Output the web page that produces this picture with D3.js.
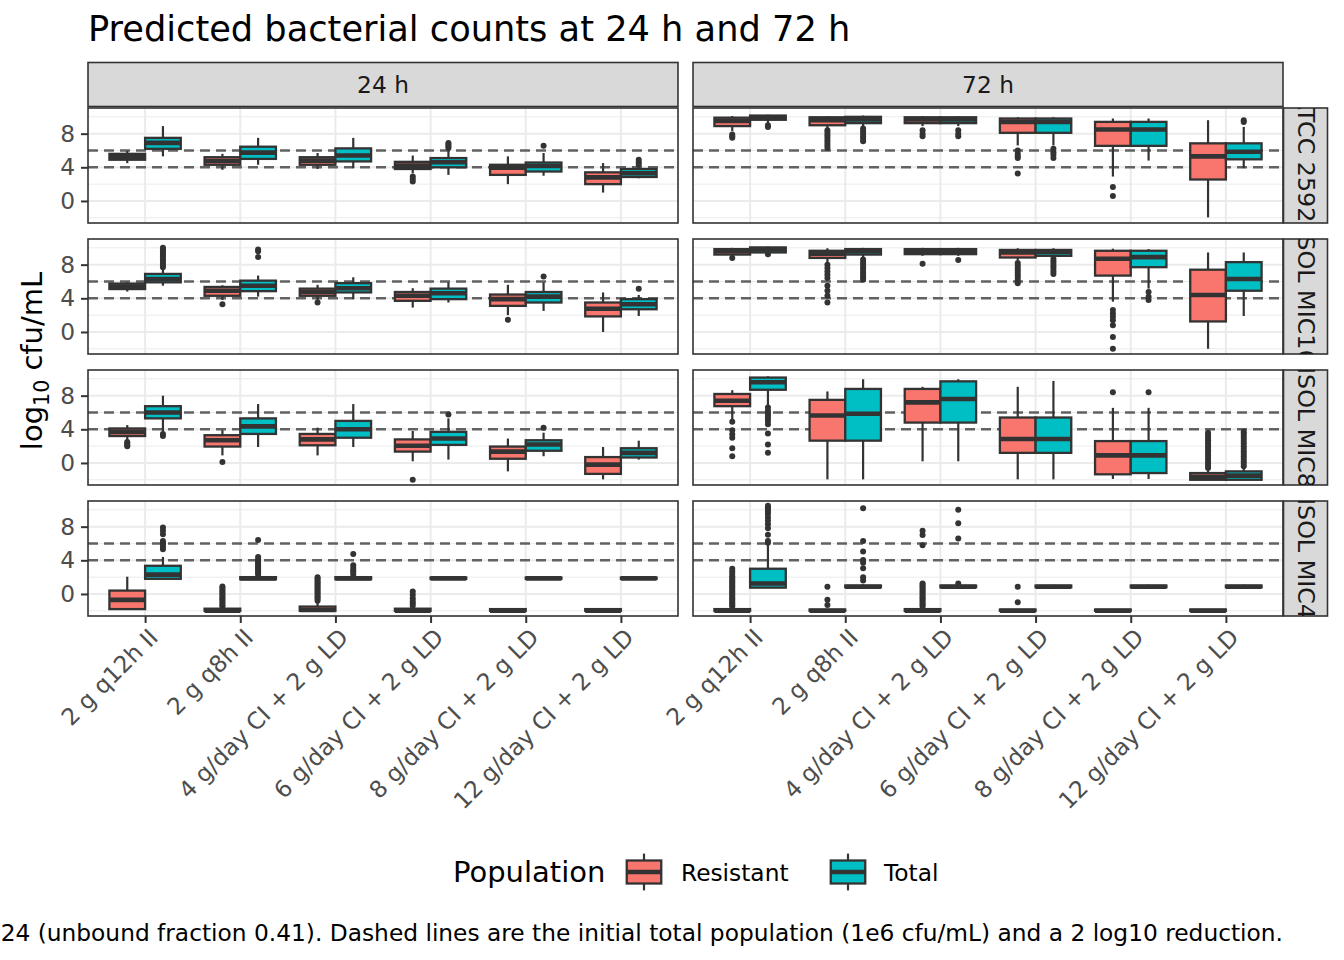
<!DOCTYPE html>
<html><head><meta charset="utf-8">
<script src="https://cdn.jsdelivr.net/npm/d3@7"></script>
<style>body{margin:0;background:#fff}svg text{font-family:"DejaVu Sans",sans-serif}</style>
</head><body><svg id="c" width="1344" height="960"></svg>
<script>
// ---------- data ----------
const regimens = ["2 g q12h II","2 g q8h II","4 g/day CI + 2 g LD","6 g/day CI + 2 g LD","8 g/day CI + 2 g LD","12 g/day CI + 2 g LD"];
const times = ["24 h","72 h"];
const strains = ["ATCC 25922","ISOL MIC16","ISOL MIC8","ISOL MIC4"];
const populations = ["Resistant","Total"];
const popColors = ["#F8766D","#00BFC4"];
const yTicks = [0,4,8];
const yMinor = [-2,2,6,10];
const refLines = [6,4];
const titleText = "Predicted bacterial counts at 24 h and 72 h";
const captionText = "24 (unbound fraction 0.41). Dashed lines are the initial total population (1e6 cfu/mL) and a 2 log10 reduction.";

// box stats per regimen: [lower whisker, q1, median, q3, upper whisker]
const atcc24R = [[4.5,4.9,5.25,5.6,5.95],[3.7,4.3,4.75,5.2,5.6],[3.8,4.3,4.8,5.2,5.7],[3.3,3.8,4.2,4.65,5.4],[2.0,3.1,3.95,4.3,5.3],[1.0,2.0,2.8,3.4,4.5]];
const atcc24R_out = [[],[],[],[2.9,2.6,2.3],[],[]];
const atcc24T = [[5.3,6.2,6.9,7.5,8.9],[4.3,5.0,5.75,6.45,7.5],[3.9,4.7,5.4,6.25,7.5],[3.1,4.0,4.6,5.1,6.0],[3.0,3.5,4.15,4.57,5.7],[2.7,2.85,3.3,3.8,4.0]];
const atcc24T_out = [[],[],[],[6.3,6.5,6.7,6.9],[6.55],[4.3,4.6,4.9]];

const mic16_24R = [[4.8,5.1,5.4,5.75,5.9],[3.8,4.3,4.9,5.35,5.55],[3.8,4.3,4.75,5.15,5.6],[2.9,3.7,4.3,4.75,5.2],[2.0,3.1,3.9,4.45,5.6],[0.0,1.85,2.75,3.5,4.7]];
const mic16_24R_out = [[],[3.3],[3.5],[],[1.45],[]];
const mic16_24T = [[5.5,5.9,6.3,6.9,7.4],[4.2,4.85,5.5,6.1,6.7],[3.9,4.7,5.2,5.8,6.5],[3.5,3.9,4.6,5.15,5.9],[2.5,3.5,4.2,4.75,5.9],[1.9,2.7,3.3,3.9,4.4]];
const mic16_24T_out = [[7.7,7.9,8.2,8.5,8.7,9.0,9.2,9.4,9.6,9.8,10.0],[8.9,9.6,9.8],[],[],[6.6],[5.15]];

const mic8_24R = [[2.7,3.2,3.7,4.1,4.5],[0.9,1.95,2.7,3.3,3.9],[0.9,2.1,2.8,3.45,4.2],[0.2,1.35,2.05,2.8,3.8],[-1.0,0.5,1.35,1.95,2.9],[-1.95,-1.3,-0.2,0.7,1.9]];
const mic8_24R_out = [[2.5,2.3,2.1,2.0],[0.1],[],[-2.0],[],[]];
const mic8_24T = [[3.7,5.3,6.0,6.75,8.0],[1.9,3.45,4.35,5.3,7.0],[1.9,3.0,4.0,5.0,7.0],[0.4,2.15,2.9,3.7,5.3],[0.8,1.45,2.2,2.7,3.6],[0.4,0.65,1.2,1.75,2.65]];
const mic8_24T_out = [[3.45,3.2],[],[],[5.75],[4.2],[]];

const mic4_24R = [[-1.9,-1.8,-0.7,0.4,2.05],[-2,-2,-2,-1.75,-1.75],[-2,-2,-1.9,-1.5,-0.9],[-2,-2,-2,-1.75,-1.75],[-2,-2,-2,-1.8,-1.8],[-2,-2,-2,-1.8,-1.8]];
const mic4_24R_out = [[],[-1.5,-1.3,-1.1,-0.9,-0.7,-0.5,-0.3,-0.1,0.1,0.3,0.5,0.7,0.9],[-0.8,-0.6,-0.4,-0.2,0.0,0.2,0.4,0.6,0.8,1.0,1.2,1.4,1.6,1.8,2.0],[-1.4,-1.1,-0.85,-0.5,-0.1,0.3],[],[]];
const mic4_24T = [[1.8,1.8,2.3,3.35,4.4],[1.75,1.75,1.85,2.0,2.1],[1.75,1.75,1.85,2.0,2.1],[1.75,1.8,1.85,1.95,2.0],[1.75,1.8,1.85,1.95,2.0],[1.75,1.8,1.85,1.95,2.0]];
const mic4_24T_out = [[5.3,5.6,5.9,6.1,6.3,7.1,7.5,7.9],[2.3,2.5,2.7,2.9,3.1,3.3,3.5,3.7,3.9,4.1,4.4,6.4],[2.3,2.6,2.8,3.1,3.4,4.75],[],[],[]];

const atcc72R = [[8.3,8.9,9.5,9.9,10.1],[8.6,9.0,9.6,9.95,10.1],[8.9,9.25,9.7,9.95,10.1],[6.6,8.1,9.4,9.8,9.95],[2.9,6.55,8.5,9.4,9.8],[-1.95,2.55,5.3,6.85,9.6]];
const atcc72R_out = [[7.9,7.7,7.5],[8.4,8.1,7.8,7.5,7.2,6.9,6.6,6.3],[8.4,8.0,7.7],[6.0,5.6,5.3,5.1,3.25],[1.65,0.6],[]];
const atcc72T = [[9.2,9.65,9.9,10.15,10.25],[8.9,9.25,9.7,10.0,10.15],[8.9,9.25,9.7,9.95,10.1],[6.6,8.1,9.4,9.8,9.95],[4.8,6.55,8.5,9.4,9.8],[3.9,4.95,5.85,6.85,8.8]];
const atcc72T_out = [[9.0,8.8],[8.6,8.3,8.0,7.7,7.4,7.1],[8.4,8.0,7.7],[6.2,5.8,5.5,5.1],[],[9.4,9.6]];

const mic16_72R = [[9.0,9.2,9.6,9.85,10.0],[8.3,8.8,9.3,9.65,9.95],[9.05,9.25,9.6,9.85,10.0],[8.5,8.85,9.45,9.75,9.95],[3.6,6.7,8.7,9.65,9.9],[-2.0,1.25,4.4,7.4,9.45]];
const mic16_72R_out = [[8.8],[8.0,7.6,7.2,6.8,6.4,5.5,4.9,4.3,3.5],[8.1],[8.2,7.9,7.6,7.3,7.0,6.7,6.4,6.1,5.8],[2.6,2.2,1.8,1.4,0.8,-0.6,-2.0],[]];
const mic16_72T = [[9.45,9.45,9.8,10.05,10.15],[8.85,9.2,9.6,9.85,10.0],[9.05,9.25,9.6,9.85,10.0],[9.0,9.05,9.5,9.75,9.95],[5.15,7.7,8.9,9.65,9.85],[1.9,4.9,6.3,8.3,9.45]];
const mic16_72T_out = [[9.25],[8.6,8.3,8.0,7.7,7.4,7.1,6.8,6.5,6.2],[8.55],[8.7,8.4,8.1,7.8,7.5,7.2,6.9],[4.75,4.2,3.8],[]];

const mic8_72R = [[5.1,6.75,7.4,8.2,8.65],[-1.95,2.65,5.65,7.5,8.5],[0.2,4.8,7.2,8.8,9.05],[-1.95,1.2,2.85,5.4,9.05],[-1.9,-1.35,0.9,2.6,6.55],[-2.0,-2.0,-1.65,-1.2,-0.9]];
const mic8_72R_out = [[4.9,3.9,3.4,3.0,1.75,0.8],[],[],[],[8.4],[-0.6,-0.3,0.0,0.3,0.6,0.9,1.2,1.5,1.8,2.1,2.4,2.7,3.0,3.3,3.6]];
const mic8_72T = [[6.85,8.7,9.6,10.15,10.3],[-1.95,2.65,5.85,8.8,9.95],[0.2,4.8,7.6,9.7,9.95],[-1.95,1.2,2.85,5.4,9.75],[-1.9,-1.2,0.9,2.6,6.55],[-2.0,-2.0,-1.5,-1.0,-0.7]];
const mic8_72T_out = [[6.6,6.2,5.9,5.6,5.3,5.0,4.6,3.5,2.2,1.2],[],[],[],[8.4],[-0.4,-0.1,0.2,0.5,0.8,1.1,1.4,1.7,2.0,2.3,2.6,2.9,3.2,3.5,3.7]];

const mic4_72R = [[-2,-2,-2,-1.8,-1.7],[-2,-2,-2,-1.85,-1.8],[-2,-2,-2,-1.8,-1.7],[-2,-2,-2,-1.85,-1.8],[-2,-2,-2,-1.85,-1.8],[-2,-2,-2,-1.85,-1.8]];
const mic4_72R_out = [[-1.5,-1.3,-1.1,-0.9,-0.7,-0.5,-0.3,-0.1,0.1,0.3,0.5,0.7,0.9,1.1,1.3,1.5,1.7,1.9,2.1,2.4,2.7,3.0],[-1.3,-0.7,0.85],[-1.5,-1.3,-1.1,-0.9,-0.7,-0.5,-0.3,-0.1,0.1,0.3,0.5,0.7,0.9,1.1,1.25,5.8,7.0,7.5],[-1.0,0.85],[],[]];
const mic4_72T = [[0.75,0.75,1.25,3.0,5.9],[0.75,0.8,0.85,1.0,1.15],[0.75,0.8,0.85,1.0,1.15],[0.75,0.8,0.85,1.0,1.1],[0.75,0.8,0.85,1.0,1.1],[0.75,0.8,0.85,1.0,1.1]];
const mic4_72T_out = [[6.1,6.3,7.05,7.8,8.3,8.7,9.1,9.5,9.8,10.1,10.3,10.5],[1.6,2.0,3.05,3.7,4.05,5.05,6.3,10.2],[1.25,6.6,8.4,10.0],[],[],[]];

// facets: [strain index, time index, resistant stats, resistant outliers, total stats, total outliers]
const facets = [
  [0,0,atcc24R,atcc24R_out,atcc24T,atcc24T_out],[0,1,atcc72R,atcc72R_out,atcc72T,atcc72T_out],
  [1,0,mic16_24R,mic16_24R_out,mic16_24T,mic16_24T_out],[1,1,mic16_72R,mic16_72R_out,mic16_72T,mic16_72T_out],
  [2,0,mic8_24R,mic8_24R_out,mic8_24T,mic8_24T_out],[2,1,mic8_72R,mic8_72R_out,mic8_72T,mic8_72T_out],
  [3,0,mic4_24R,mic4_24R_out,mic4_24T,mic4_24T_out],[3,1,mic4_72R,mic4_72R_out,mic4_72T,mic4_72T_out]
];

// ---------- layout ----------
const svg = d3.select("#c");
const colX0 = t => 88 + t*605;
const panelW = 590, panelH = 115;
const rowY0 = s => 108 + s*131;
const boxW = 0.375, dodge = 0.1875;
const ink = "#333333";
const small = 23.3;

svg.append("rect").attr("width",1344).attr("height",960).attr("fill","#fff");

svg.append("text").attr("x",88).attr("y",41).attr("font-size",35.2).attr("fill","#000").text(titleText);

const defs = svg.append("defs");

facets.forEach(([s,t,R,Rout,T,Tout]) => {
  const x0 = colX0(t), y0 = rowY0(s);
  const x = d3.scaleLinear().domain([0.4, 6.6]).range([x0, x0+panelW]);
  const y = d3.scaleLinear().domain([-2.62, 11.05]).range([y0+panelH, y0]);
  const g = svg.append("g");
  g.append("rect").attr("x",x0).attr("y",y0).attr("width",panelW).attr("height",panelH).attr("fill","#fff");
  // grid
  g.selectAll(".mn").data(yMinor).join("line").attr("x1",x0).attr("x2",x0+panelW)
    .attr("y1",d=>y(d)).attr("y2",d=>y(d)).attr("stroke","#EBEBEB").attr("stroke-width",1);
  g.selectAll(".mj").data(yTicks).join("line").attr("x1",x0).attr("x2",x0+panelW)
    .attr("y1",d=>y(d)).attr("y2",d=>y(d)).attr("stroke","#EBEBEB").attr("stroke-width",2);
  g.selectAll(".vx").data(regimens).join("line").attr("x1",(d,i)=>x(i+1)).attr("x2",(d,i)=>x(i+1))
    .attr("y1",y0).attr("y2",y0+panelH).attr("stroke","#EBEBEB").attr("stroke-width",2);
  // reference dashed lines
  g.selectAll(".ref").data(refLines).join("line").attr("x1",x0).attr("x2",x0+panelW)
    .attr("y1",d=>y(d)).attr("y2",d=>y(d)).attr("stroke","#626262").attr("stroke-width",2.4)
    .attr("stroke-dasharray","10,6");
  // boxes
  [[R,Rout],[T,Tout]].forEach(([stats,outs],p) => {
    stats.forEach((st,i) => {
      const cx = x(i+1 + (p===0 ? -dodge : dodge));
      const hw = (x(boxW) - x(0))/2;
      const bg = g.append("g");
      bg.selectAll("circle").data(outs[i]).join("circle").attr("cx",cx).attr("cy",d=>y(d)).attr("r",3).attr("fill",ink);
      bg.append("line").attr("x1",cx).attr("x2",cx).attr("y1",y(st[4])).attr("y2",y(st[3])).attr("stroke",ink).attr("stroke-width",2.2);
      bg.append("line").attr("x1",cx).attr("x2",cx).attr("y1",y(st[1])).attr("y2",y(st[0])).attr("stroke",ink).attr("stroke-width",2.2);
      bg.append("rect").attr("x",cx-hw).attr("width",2*hw).attr("y",y(st[3])).attr("height",Math.max(0.1,y(st[1])-y(st[3])))
        .attr("fill",popColors[p]).attr("stroke",ink).attr("stroke-width",2.3);
      bg.append("line").attr("x1",cx-hw).attr("x2",cx+hw).attr("y1",y(st[2])).attr("y2",y(st[2])).attr("stroke",ink).attr("stroke-width",4.6);
    });
  });
  g.append("rect").attr("x",x0).attr("y",y0).attr("width",panelW).attr("height",panelH)
    .attr("fill","none").attr("stroke",ink).attr("stroke-width",1.6);

  // y axis on left column
  if (t === 0) {
    const ax = svg.append("g").attr("transform",`translate(${x0},0)`)
      .call(d3.axisLeft(y).tickValues(yTicks).tickSize(7).tickPadding(6).tickFormat(d3.format("d")));
    ax.select(".domain").remove();
    ax.selectAll("line").attr("stroke",ink).attr("stroke-width",2);
    ax.selectAll("text").attr("font-size",small).attr("fill","#4D4D4D").attr("font-family","DejaVu Sans");
  }
  // x axis on bottom row
  if (s === strains.length-1) {
    const ax = svg.append("g").attr("transform",`translate(0,${y0+panelH})`)
      .call(d3.axisBottom(x).tickValues(d3.range(1,7)).tickSize(7).tickFormat(d=>regimens[d-1]));
    ax.select(".domain").remove();
    ax.selectAll("line").attr("stroke",ink).attr("stroke-width",2);
    ax.selectAll("text").attr("font-size",small).attr("fill","#4D4D4D").attr("font-family","DejaVu Sans")
      .attr("text-anchor","end").attr("x",0).attr("y",0).attr("dy","0.72em")
      .attr("transform","translate(2,11) rotate(-45)");
  }
  // top strips
  if (s === 0) {
    svg.append("rect").attr("x",x0).attr("y",62.5).attr("width",panelW).attr("height",44)
      .attr("fill","#D9D9D9").attr("stroke",ink).attr("stroke-width",1.6);
    svg.append("text").attr("x",x0+panelW/2).attr("y",84.5).attr("dominant-baseline","central")
      .attr("text-anchor","middle").attr("font-size",small).attr("fill","#1A1A1A").text(times[t]);
  }
  // right strips
  if (t === 1) {
    const sx = x0+panelW+0.5, sw = 44;
    const cid = "clip"+s;
    defs.append("clipPath").attr("id",cid).append("rect").attr("x",sx).attr("y",y0).attr("width",sw).attr("height",panelH);
    svg.append("rect").attr("x",sx).attr("y",y0).attr("width",sw).attr("height",panelH)
      .attr("fill","#D9D9D9").attr("stroke",ink).attr("stroke-width",1.6);
    svg.append("g").attr("clip-path",`url(#${cid})`).append("text")
      .attr("transform",`translate(${sx+sw/2},${y0+panelH/2}) rotate(90)`)
      .attr("text-anchor","middle").attr("dominant-baseline","central")
      .attr("font-size",23.8).attr("fill","#1A1A1A").text(strains[s]);
  }
});

// y axis title
const yt = svg.append("text").attr("transform","translate(42,361) rotate(-90)").attr("text-anchor","middle")
  .attr("font-size",29).attr("fill","#000");
yt.append("tspan").text("log");
yt.append("tspan").attr("font-size",20.5).attr("dy",7).text("10");
yt.append("tspan").attr("dy",-7).text(" cfu/mL");

// legend
const lg = svg.append("g");
lg.append("text").attr("x",453).attr("y",872).attr("dominant-baseline","central").attr("font-size",29).attr("fill","#000").text("Population");
const keyX = [621, 825], labX = [681, 884];
populations.forEach((p,i) => {
  const kx = keyX[i], ky = 849, ks = 46;
  const k = lg.append("g");
  k.append("line").attr("x1",kx+ks/2).attr("x2",kx+ks/2).attr("y1",ky+ks*0.1).attr("y2",ky+ks*0.9).attr("stroke",ink).attr("stroke-width",2.2);
  k.append("rect").attr("x",kx+ks*0.125).attr("y",ky+ks*0.25).attr("width",ks*0.75).attr("height",ks*0.5)
    .attr("fill",popColors[i]).attr("stroke",ink).attr("stroke-width",2.3);
  k.append("line").attr("x1",kx+ks*0.125).attr("x2",kx+ks*0.875).attr("y1",ky+ks/2).attr("y2",ky+ks/2).attr("stroke",ink).attr("stroke-width",4.6);
  lg.append("text").attr("x",labX[i]).attr("y",872).attr("dominant-baseline","central").attr("font-size",small).attr("fill","#000").text(p);
});

// caption
svg.append("text").attr("x",1283).attr("y",932).attr("dominant-baseline","central").attr("text-anchor","end")
  .attr("font-size",small).attr("fill","#000").text(captionText);
</script></body></html>
